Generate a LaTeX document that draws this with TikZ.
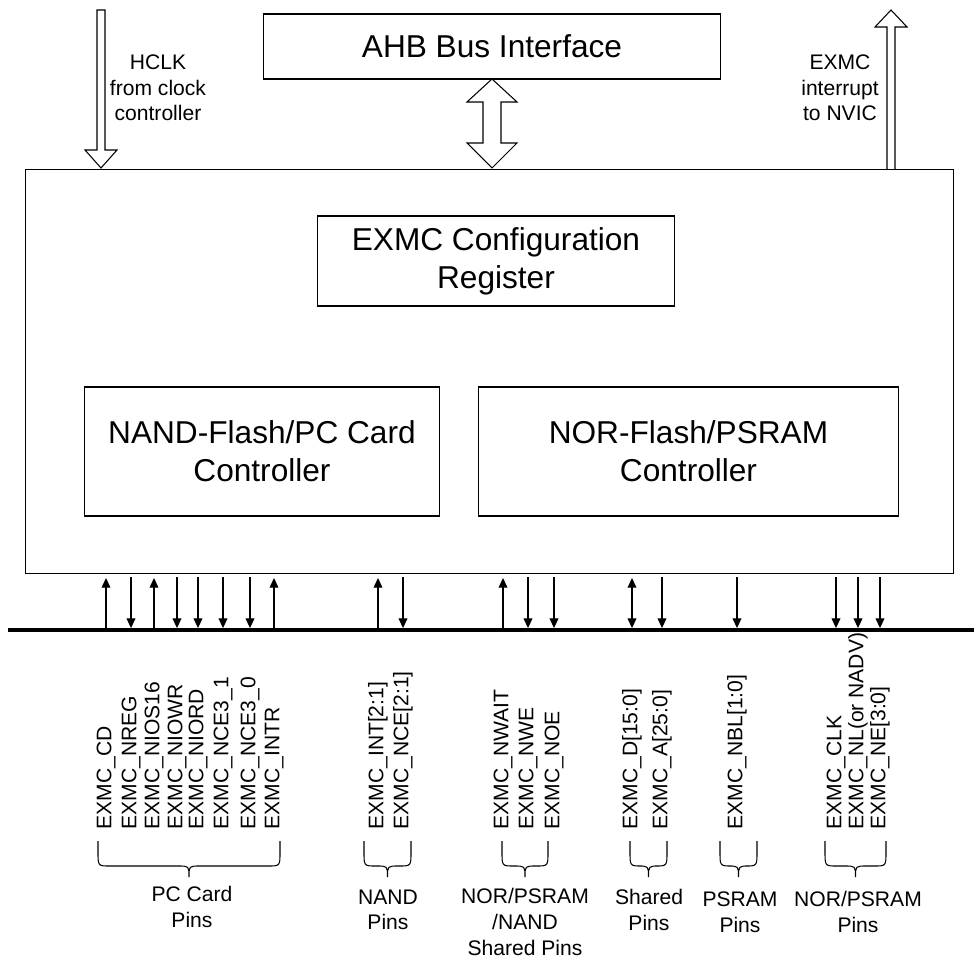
\documentclass[tikz,border=0pt]{standalone}
\usepackage{fontspec}
\setmainfont{Liberation Sans}
\usetikzlibrary{arrows.meta}

\newcommand{\pinbrace}[2]{%
  \draw (#1,841) -- (#1,852) .. controls (#1,866) .. ({#1+12},866)
    -- ({(#1+#2)/2-11},866) .. controls ({(#1+#2)/2},866) .. ({(#1+#2)/2},877)
    .. controls ({(#1+#2)/2},866) .. ({(#1+#2)/2+11},866)
    -- ({#2-12},866) .. controls (#2,866) .. (#2,852) -- (#2,841);}

\tikzset{
  box/.style={draw, line width=0.6pt, align=center, inner sep=0pt,
    font=\fontsize{18}{21.6}\selectfont},
  sig/.style={rotate=90, anchor=west, inner sep=0pt,
    font=\fontsize{12}{14.4}\selectfont},
  grp/.style={align=center, inner sep=0pt, font=\fontsize{12}{14.6}\selectfont},
  sigdown/.style={-{Triangle[length=5.5pt,width=5pt]}, shorten <=1.5pt, shorten >=1.1pt},
  sigup/.style={{Triangle[length=5.5pt,width=5pt]}-, shorten <=2pt},
  sigboth/.style={{Triangle[length=5.5pt,width=5pt]}-{Triangle[length=5.5pt,width=5pt]},
    shorten <=2pt, shorten >=1.1pt},
}

\begin{document}
\begin{tikzpicture}[x={(0.02cm,0)}, y={(0,-0.02cm)}, line width=0.6pt,
    line join=miter]
  \useasboundingbox (0,0) rectangle (974,959);

  % blocks
  \node[box, minimum width=9.16cm, minimum height=1.3cm] (ahb) at (492,46.5) {AHB Bus Interface};
  \node[draw, minimum width=18.58cm, minimum height=8.1cm] (exmc) at (489.5,371.5) {};
  \node[box, minimum width=7.16cm, minimum height=1.8cm] (cfg) at (496,261) {EXMC Configuration\\Register};
  \node[box, minimum width=7.12cm, minimum height=2.58cm] (nand) at (262,451.5) {NAND-Flash/PC Card\\Controller};
  \node[box, minimum width=8.42cm, minimum height=2.58cm] (nor) at (688.5,451.5) {NOR-Flash/PSRAM\\Controller};

  % hollow arrows
  \draw[fill=white] (97,10) -- (105,10) -- (105,150) -- (117,150) -- (101,168)
    -- (85,150) -- (97,150) -- cycle;
  \draw[fill=white] (887,169) -- (887,27) -- (875,27) -- (891,10) -- (907,27)
    -- (895,27) -- (895,169);
  \draw[fill=white] (492,79) -- (517,102) -- (501,102) -- (501,143) -- (517,143)
    -- (492,168) -- (467,143) -- (483,143) -- (483,102) -- (467,102) -- cycle;

  \node[grp] (hclk) at (158,88) {HCLK\\from clock\\controller};
  \node[grp] (irq) at (840,88) {EXMC\\interrupt\\to NVIC};

  % bus
  \coordinate (busL) at (8,630);
  \coordinate (busR) at (974,630);
  \draw[line width=2.3pt] (busL) -- (busR);

  % pins
  \foreach \x/\s/\d [count=\i] in {
      106/CD/sigup, 131/NREG/sigdown, 154/NIOS16/sigup, 177/NIOWR/sigdown,
      198/NIORD/sigdown, 223/NCE3\_1/sigdown, 250/NCE3\_0/sigdown, 274/INTR/sigup,
      378/{INT[2:1]}/sigup, 403/{NCE[2:1]}/sigdown,
      503/NWAIT/sigup, 528/NWE/sigdown, 554/NOE/sigdown,
      632/{D[15:0]}/sigboth, 662/{A[25:0]}/sigdown,
      737/{NBL[1:0]}/sigdown,
      836/CLK/sigdown, 858/{NL(or NADV)}/sigdown, 880/{NE[3:0]}/sigdown}{
    \node[sig] (s\i) at (\x,830) {EXMC\_\s};
    \draw[\d] (exmc.south -| s\i) -- (busL -| s\i);
  }

  % groups
  \pinbrace{98}{280}
  \pinbrace{364}{411}
  \pinbrace{502}{548}
  \pinbrace{630}{667}
  \pinbrace{720}{757}
  \pinbrace{825}{886}

  \node[grp] (pcpins) at (192,907) {PC Card\\Pins};
  \node[grp] (nandpins) at (388,910) {NAND\\Pins};
  \node[grp] (sharepins) at (525,922) {NOR/PSRAM\\/NAND\\Shared Pins};
  \node[grp] (adpins) at (649,910) {Shared\\Pins};
  \node[grp] (psrampins) at (740,912) {PSRAM\\Pins};
  \node[grp] (norpins) at (858,912) {NOR/PSRAM\\Pins};
\end{tikzpicture}
\end{document}
